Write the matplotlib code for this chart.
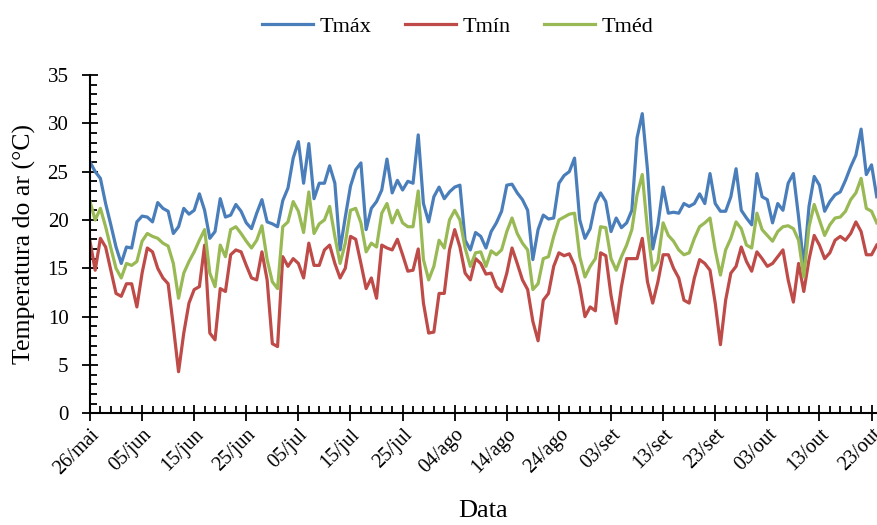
"""Temperatura do ar diaria (Tmax, Tmin, Tmed), 26/mai a 24/out."""
import matplotlib
matplotlib.use("Agg")
import matplotlib.pyplot as plt
import numpy as np
from matplotlib.ticker import MultipleLocator

# --- Data (one value per day, day 0 = 26/mai) ---
tmax = [
    26.0, 25.0, 24.3, 21.7, 19.5, 17.2, 15.5, 17.2, 17.1, 19.8,
    20.4, 20.3, 19.8, 21.8, 21.2, 20.9, 18.6, 19.3, 21.2, 20.6,
    21.0, 22.7, 21.0, 18.1, 18.8, 22.2, 20.3, 20.5, 21.6, 20.9,
    19.7, 19.1, 20.7, 22.1, 19.8, 19.6, 19.3, 22.0, 23.3, 26.4,
    28.1, 23.8, 27.9, 22.2, 23.8, 23.8, 25.6, 23.8, 16.9, 20.3,
    23.5, 25.2, 25.9, 19.0, 21.2, 21.9, 23.1, 26.3, 22.8, 24.1,
    23.1, 24.0, 23.8, 28.8, 21.7, 19.8, 22.4, 23.4, 22.2, 22.9,
    23.4, 23.6, 17.9, 16.9, 18.7, 18.3, 17.1, 18.8, 19.7, 20.9,
    23.6, 23.7, 22.8, 22.1, 21.0, 15.9, 19.0, 20.5, 20.1, 20.2,
    23.8, 24.6, 25.0, 26.4, 20.0, 18.1, 19.1, 21.7, 22.8, 21.9,
    18.8, 20.2, 19.2, 19.7, 21.0, 28.5, 31.0, 25.2, 17.0, 19.5,
    23.4, 20.7, 20.8, 20.7, 21.7, 21.4, 21.7, 22.7, 21.7, 24.8,
    21.7, 20.9, 20.9, 22.4, 25.3, 21.0, 20.2, 19.5, 24.8, 22.4,
    22.1, 19.7, 21.7, 21.0, 23.8, 24.8, 20.3, 15.2, 21.4, 24.5,
    23.6, 20.9, 21.9, 22.6, 22.9, 24.1, 25.5, 26.7, 29.4, 24.7,
    25.7, 22.4,
]
tmin = [
    17.8, 14.8, 18.1, 17.2, 14.8, 12.4, 12.1, 13.4, 13.4, 11.0,
    14.5, 17.1, 16.7, 15.0, 14.0, 13.4, 9.0, 4.3, 8.3, 11.4,
    12.8, 13.1, 17.4, 8.3, 7.6, 12.9, 12.6, 16.4, 16.9, 16.7,
    15.3, 14.0, 13.8, 16.7, 13.8, 7.2, 6.9, 16.2, 15.2, 16.0,
    15.5, 14.0, 17.6, 15.3, 15.3, 16.9, 17.4, 15.5, 14.0, 15.0,
    18.3, 18.0, 15.5, 12.9, 14.0, 11.9, 17.4, 17.1, 16.9, 18.0,
    16.4, 14.7, 14.8, 17.0, 11.4, 8.3, 8.4, 12.4, 12.4, 16.9,
    19.0, 17.2, 14.5, 13.8, 16.0, 15.5, 14.4, 14.5, 13.1, 12.6,
    14.5, 17.1, 15.5, 13.8, 12.8, 9.5, 7.5, 11.7, 12.4, 15.2,
    16.6, 16.3, 16.5, 15.3, 13.1, 10.0, 11.0, 10.6, 16.6, 16.3,
    12.2, 9.3, 13.1, 16.0, 16.0, 16.0, 18.1, 13.6, 11.4, 13.6,
    16.4, 16.4, 15.0, 14.0, 11.7, 11.4, 14.0, 15.9, 15.5, 14.8,
    11.4, 7.1, 11.7, 14.5, 15.2, 17.2, 15.7, 14.7, 16.7, 16.0,
    15.2, 15.5, 16.2, 16.9, 13.8, 11.5, 15.5, 12.6, 15.9, 18.4,
    17.4, 16.0, 16.6, 17.9, 18.3, 17.9, 18.6, 19.8, 18.8, 16.4,
    16.4, 17.4,
]
tmed = [
    21.9, 20.0, 21.2, 19.3, 17.1, 15.0, 14.0, 15.5, 15.3, 15.7,
    17.8, 18.6, 18.3, 18.1, 17.6, 17.3, 15.5, 11.9, 14.5, 15.7,
    16.7, 17.9, 19.0, 14.5, 13.1, 17.4, 16.2, 19.0, 19.3, 18.6,
    17.8, 17.1, 17.9, 19.4, 15.9, 13.6, 12.9, 19.3, 19.8, 21.9,
    20.9, 18.7, 22.9, 18.6, 19.6, 20.0, 21.4, 18.3, 15.5, 17.6,
    21.0, 21.2, 19.7, 16.7, 17.6, 17.2, 20.7, 21.7, 19.7, 21.0,
    19.7, 19.3, 19.3, 23.0, 15.9, 13.8, 15.2, 17.9, 17.1, 20.0,
    21.0, 20.0, 17.1, 15.2, 16.6, 16.7, 15.2, 16.8, 16.4, 16.9,
    18.8, 20.2, 18.6, 17.6, 16.9, 12.8, 13.4, 16.0, 16.2, 18.3,
    20.0, 20.3, 20.6, 20.7, 16.2, 14.1, 15.2, 16.0, 19.3, 19.2,
    16.0, 14.8, 16.2, 17.4, 19.0, 22.6, 24.7, 19.0, 14.8, 15.7,
    19.7, 18.4, 17.8, 16.9, 16.4, 16.6, 18.1, 19.3, 19.7, 20.2,
    16.9, 14.3, 16.9, 18.1, 19.8, 19.1, 17.4, 17.1, 20.7, 19.0,
    18.4, 17.8, 18.8, 19.3, 19.4, 19.1, 17.9, 14.1, 19.3, 21.6,
    20.0, 18.4, 19.5, 20.2, 20.3, 20.9, 22.1, 22.8, 24.3, 21.2,
    20.9, 19.7,
]
tick_labels = [
    "26/mai", "05/jun", "15/jun", "25/jun", "05/jul", "15/jul", "25/jul",
    "04/ago", "14/ago", "24/ago", "03/set", "13/set", "23/set", "03/out",
    "13/out", "23/out",
]

days = np.arange(len(tmax))

plt.rcParams["font.family"] = ["Liberation Serif", "DejaVu Serif"]

fig = plt.figure(figsize=(8.77, 5.25), dpi=100)
ax = fig.add_axes([0.1026, 0.2128, 0.8974, 0.6444])

lw = 2.3
ax.plot(days, tmax, color="#4A7EBB", lw=lw, label="Tmáx", solid_joinstyle="round")
ax.plot(days, tmin, color="#BE4B48", lw=lw, label="Tmín", solid_joinstyle="round")
ax.plot(days, tmed, color="#98B954", lw=lw, label="Tméd", solid_joinstyle="round")

ax.set_xlim(0, 151.05)
ax.set_ylim(0, 35)

# y axis: major every 5 (cross ticks), minor every 1 (inside)
ax.yaxis.set_major_locator(MultipleLocator(5))
ax.yaxis.set_minor_locator(MultipleLocator(1))
ax.tick_params(axis="y", which="major", direction="inout", length=11, width=1.3,
               labelsize=15, pad=10)
ax.tick_params(axis="y", which="minor", direction="in", length=5, width=1.3)

# x axis: major every 10 days (cross), minor every 2 days (inside)
ax.set_xticks(np.arange(0, 151, 10))
ax.set_xticklabels(tick_labels, rotation=45, ha="right", rotation_mode="anchor")
ax.xaxis.set_minor_locator(MultipleLocator(2))
ax.tick_params(axis="x", which="major", direction="inout", length=11, width=1.3,
               labelsize=14.5, pad=3)
ax.tick_params(axis="x", which="minor", direction="in", length=5, width=1.3)

for side in ("top", "right"):
    ax.spines[side].set_visible(False)
for side in ("left", "bottom"):
    ax.spines[side].set_linewidth(1.5)
    ax.spines[side].set_color("black")

ax.set_ylabel("Temperatura do ar (°C)", fontsize=18.5, labelpad=8)
fig.text(0.551, 0.026, "Data", fontsize=19, ha="center", va="center")

fig.legend(loc="center", bbox_to_anchor=(0.522, 0.950), ncol=3, frameon=False,
           fontsize=16, handlelength=2.3, columnspacing=1.5, handletextpad=0.3)

fig.savefig("out.png", dpi=100)
